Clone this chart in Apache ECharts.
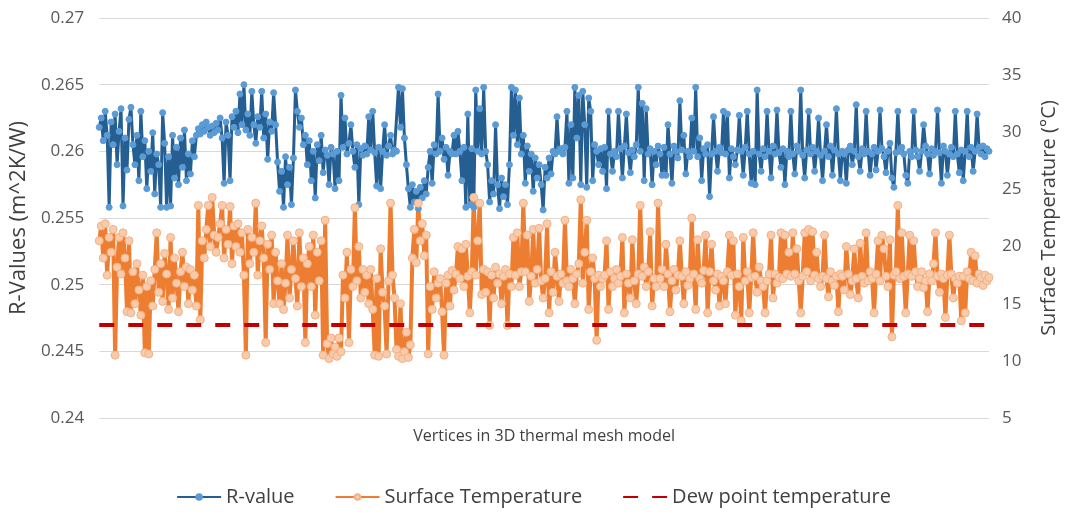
<!DOCTYPE html>
<html>
<head>
<meta charset="utf-8">
<title>R-values and surface temperature across mesh vertices</title>
<script src="https://cdn.jsdelivr.net/npm/echarts@6/dist/echarts.min.js"></script>
<style>
  html, body { margin: 0; padding: 0; background: #ffffff; }
  #chart { width: 1067px; height: 518px; }
</style>
</head>
<body>
<div id="chart"></div>
<script>
// R-value at each vertex of the 3D thermal mesh (m^2K/W)
const rValue = [
  0.2618, 0.2625, 0.2608, 0.2630, 0.2612, 0.2558, 0.2622, 0.2605, 0.2628, 0.2590, 0.2615, 0.2632, 0.2559, 0.2610, 0.2586,
  0.2624, 0.2633, 0.2605, 0.2590, 0.2612, 0.2578, 0.2630, 0.2596, 0.2608, 0.2572, 0.2600, 0.2585, 0.2614, 0.2568, 0.2598,
  0.2590, 0.2558, 0.2629, 0.2606, 0.2558, 0.2596, 0.2559, 0.2612, 0.2580, 0.2603, 0.2575, 0.2610, 0.2588, 0.2616, 0.2578,
  0.2598, 0.2583, 0.2608, 0.2596, 0.2612, 0.2617, 0.2613, 0.2620, 0.2615, 0.2622, 0.2618, 0.2612, 0.2619, 0.2614, 0.2621,
  0.2616, 0.2625, 0.2610, 0.2576, 0.2622, 0.2612, 0.2578, 0.2626, 0.2618, 0.2630, 0.2614, 0.2643, 0.2620, 0.2650, 0.2616,
  0.2628, 0.2612, 0.2645, 0.2620, 0.2606, 0.2626, 0.2618, 0.2645, 0.2610, 0.2628, 0.2594, 0.2622, 0.2615, 0.2644, 0.2620,
  0.2592, 0.2570, 0.2585, 0.2558, 0.2596, 0.2575, 0.2588, 0.2560, 0.2595, 0.2646, 0.2630, 0.2618, 0.2625, 0.2605, 0.2612,
  0.2590, 0.2608, 0.2578, 0.2600, 0.2565, 0.2605, 0.2593, 0.2612, 0.2584, 0.2601, 0.2597, 0.2575, 0.2603, 0.2598, 0.2572,
  0.2600, 0.2578, 0.2642, 0.2603, 0.2625, 0.2598, 0.2606, 0.2620, 0.2600, 0.2588, 0.2605, 0.2560, 0.2602, 0.2597, 0.2604,
  0.2598, 0.2626, 0.2601, 0.2630, 0.2599, 0.2574, 0.2603, 0.2572, 0.2600, 0.2620, 0.2597, 0.2604, 0.2612, 0.2598, 0.2601,
  0.2600, 0.2648, 0.2618, 0.2647, 0.2610, 0.2590, 0.2572, 0.2558, 0.2575, 0.2562, 0.2570, 0.2557, 0.2573, 0.2565, 0.2578,
  0.2568, 0.2588, 0.2600, 0.2576, 0.2605, 0.2598, 0.2643, 0.2600, 0.2610, 0.2594, 0.2603, 0.2582, 0.2600, 0.2598, 0.2612,
  0.2598, 0.2615, 0.2600, 0.2578, 0.2603, 0.2558, 0.2628, 0.2560, 0.2602, 0.2558, 0.2646, 0.2600, 0.2632, 0.2598, 0.2648,
  0.2600, 0.2590, 0.2562, 0.2578, 0.2568, 0.2620, 0.2575, 0.2557, 0.2580, 0.2566, 0.2575, 0.2560, 0.2590, 0.2648, 0.2612,
  0.2646, 0.2605, 0.2640, 0.2598, 0.2612, 0.2576, 0.2604, 0.2585, 0.2598, 0.2570, 0.2595, 0.2580, 0.2590, 0.2575, 0.2556,
  0.2588, 0.2580, 0.2595, 0.2583, 0.2600, 0.2598, 0.2626, 0.2600, 0.2602, 0.2598, 0.2603, 0.2630, 0.2576, 0.2620, 0.2580,
  0.2648, 0.2610, 0.2642, 0.2575, 0.2645, 0.2620, 0.2573, 0.2640, 0.2630, 0.2578, 0.2605, 0.2600, 0.2590, 0.2602, 0.2585,
  0.2603, 0.2572, 0.2630, 0.2598, 0.2585, 0.2600, 0.2596, 0.2630, 0.2602, 0.2580, 0.2604, 0.2628, 0.2599, 0.2584, 0.2601,
  0.2596, 0.2605, 0.2648, 0.2600, 0.2636, 0.2578, 0.2632, 0.2598, 0.2602, 0.2575, 0.2600, 0.2590, 0.2604, 0.2598, 0.2582,
  0.2603, 0.2582, 0.2620, 0.2598, 0.2576, 0.2604, 0.2600, 0.2595, 0.2638, 0.2601, 0.2612, 0.2583, 0.2600, 0.2596, 0.2625,
  0.2600, 0.2648, 0.2596, 0.2610, 0.2578, 0.2602, 0.2598, 0.2605, 0.2566, 0.2598, 0.2626, 0.2600, 0.2585, 0.2603, 0.2599,
  0.2630, 0.2598, 0.2628, 0.2580, 0.2602, 0.2596, 0.2590, 0.2601, 0.2627, 0.2600, 0.2582, 0.2603, 0.2630, 0.2598, 0.2576,
  0.2600, 0.2575, 0.2646, 0.2598, 0.2585, 0.2602, 0.2596, 0.2630, 0.2600, 0.2580, 0.2604, 0.2598, 0.2631, 0.2599, 0.2588,
  0.2602, 0.2575, 0.2600, 0.2596, 0.2630, 0.2598, 0.2583, 0.2604, 0.2600, 0.2646, 0.2597, 0.2580, 0.2601, 0.2630, 0.2598,
  0.2603, 0.2585, 0.2600, 0.2625, 0.2597, 0.2578, 0.2600, 0.2620, 0.2596, 0.2604, 0.2582, 0.2601, 0.2632, 0.2598, 0.2578,
  0.2600, 0.2598, 0.2576, 0.2601, 0.2604, 0.2590, 0.2600, 0.2635, 0.2596, 0.2585, 0.2602, 0.2598, 0.2630, 0.2600, 0.2582,
  0.2598, 0.2603, 0.2586, 0.2600, 0.2631, 0.2602, 0.2596, 0.2584, 0.2600, 0.2606, 0.2580, 0.2573, 0.2599, 0.2630, 0.2600,
  0.2603, 0.2598, 0.2582, 0.2576, 0.2600, 0.2596, 0.2630, 0.2601, 0.2596, 0.2585, 0.2600, 0.2620, 0.2604, 0.2598, 0.2583,
  0.2602, 0.2597, 0.2600, 0.2631, 0.2599, 0.2576, 0.2604, 0.2600, 0.2582, 0.2598, 0.2603, 0.2596, 0.2630, 0.2598, 0.2584,
  0.2601, 0.2578, 0.2600, 0.2630, 0.2596, 0.2603, 0.2585, 0.2600, 0.2628, 0.2603, 0.2598, 0.2604, 0.2596, 0.2602, 0.2600
];

// Surface temperature at the same vertices (°C)
const surfaceTemp = [
  20.5, 21.8, 19.0, 22.0, 17.5, 20.8, 19.5, 21.5, 10.5, 18.2, 20.8, 17.6, 21.2, 19.0, 14.3,
  20.5, 14.2, 17.8, 15.0, 18.5, 16.2, 14.0, 17.5, 10.7, 16.5, 10.6, 17.0, 14.8, 18.0, 21.2,
  16.0, 18.5, 15.2, 19.4, 17.6, 14.5, 20.8, 15.5, 19.0, 16.8, 14.3, 17.8, 19.5, 16.5, 18.2,
  15.0, 18.0, 16.2, 17.5, 14.8, 23.6, 13.6, 20.5, 19.0, 21.5, 23.6, 20.0, 24.3, 21.0, 19.5,
  20.8, 22.0, 23.6, 19.0, 21.5, 20.2, 23.5, 18.5, 21.8, 20.0, 22.0, 19.5, 21.2, 17.5, 10.5,
  21.5, 18.5, 20.8, 19.5, 23.8, 17.5, 20.5, 21.8, 19.0, 11.6, 20.2, 18.0, 21.0, 15.0, 19.5,
  17.0, 15.0, 18.5, 14.5, 16.8, 21.0, 15.5, 18.0, 20.5, 17.2, 14.8, 21.2, 16.5, 19.0, 11.6,
  18.5, 20.0, 16.5, 21.0, 14.0, 19.5, 17.0, 20.5, 10.5, 22.3, 11.5, 10.2, 12.0, 10.6, 11.2,
  10.4, 12.0, 10.8, 17.5, 15.5, 19.5, 11.6, 18.0, 16.5, 23.4, 17.0, 20.0, 15.5, 18.0, 16.0,
  17.5, 15.0, 18.0, 14.5, 10.5, 17.2, 10.4, 19.8, 16.0, 14.8, 10.6, 17.0, 23.8, 17.5, 15.5,
  11.0, 10.4, 15.0, 10.2, 10.8, 12.5, 10.3, 11.4, 19.0, 21.5, 18.6, 23.8, 20.5, 22.0, 19.2,
  21.0, 10.6, 16.5, 14.5, 17.8, 15.5, 16.8, 17.2, 14.3, 10.5, 16.8, 17.5, 14.8, 17.9, 16.2,
  17.6, 20.0, 17.2, 19.8, 16.5, 20.2, 17.4, 14.2, 17.8, 24.3, 17.5, 20.5, 23.8, 15.8, 18.0,
  16.0, 17.8, 13.1, 17.5, 15.5, 18.2, 16.8, 17.6, 15.0, 17.4, 18.0, 13.1, 17.6, 16.5, 20.8,
  17.5, 21.2, 16.5, 17.8, 23.8, 17.8, 21.0, 15.2, 17.4, 21.5, 16.8, 18.0, 21.6, 17.0, 15.5,
  17.2, 22.0, 14.2, 17.8, 16.0, 19.5, 17.4, 15.2, 17.6, 16.8, 22.3, 17.0, 16.5, 18.0, 17.2,
  15.0, 17.6, 18.5, 24.1, 16.8, 19.5, 22.3, 14.5, 17.8, 19.0, 17.2, 11.8, 17.5, 16.5, 17.2,
  17.5, 20.5, 14.5, 17.8, 16.5, 17.2, 18.0, 16.8, 17.4, 20.8, 14.2, 17.6, 16.8, 15.5, 20.6,
  17.0, 15.0, 17.6, 23.6, 17.4, 18.2, 16.5, 17.8, 21.3, 14.8, 17.2, 16.5, 23.8, 17.2, 18.0,
  16.5, 20.2, 17.6, 14.3, 17.0, 18.0, 16.2, 17.5, 20.5, 17.4, 15.0, 17.8, 16.6, 17.2, 22.5,
  17.6, 14.5, 20.6, 17.2, 16.8, 17.9, 21.0, 14.2, 17.8, 20.2, 17.0, 16.2, 17.6, 14.8, 17.4,
  17.0, 15.0, 17.8, 21.0, 17.5, 20.5, 14.0, 17.6, 16.5, 13.5, 20.8, 17.0, 17.8, 14.2, 17.3,
  21.2, 17.4, 16.0, 18.2, 17.0, 16.5, 14.2, 17.0, 17.6, 21.0, 15.5, 17.6, 16.8, 17.3, 21.2,
  17.2, 21.0, 17.6, 19.5, 17.4, 21.2, 17.6, 19.8, 17.0, 14.2, 17.4, 21.2, 17.8, 21.5, 17.0,
  21.3, 17.5, 19.5, 17.2, 16.5, 17.4, 21.0, 17.2, 15.6, 17.8, 17.0, 16.6, 17.4, 14.3, 17.6,
  17.4, 16.2, 20.0, 17.6, 15.8, 17.0, 19.8, 17.2, 15.5, 20.3, 17.4, 16.8, 21.2, 17.0, 17.8,
  17.2, 14.2, 17.6, 20.5, 17.0, 21.0, 19.8, 17.4, 16.5, 20.6, 12.1, 17.5, 17.8, 23.6, 17.2,
  21.2, 17.4, 14.2, 17.6, 21.0, 17.4, 20.5, 17.8, 16.5, 17.2, 17.8, 16.4, 17.0, 14.3, 17.6,
  17.0, 18.5, 21.2, 17.4, 16.0, 17.6, 17.2, 13.8, 17.5, 21.0, 17.6, 15.5, 17.2, 16.8, 17.4,
  13.5, 17.4, 14.2, 17.8, 17.2, 19.5, 17.0, 19.2, 16.8, 17.6, 17.3, 16.6, 17.5, 17.0, 17.3
];

// Dew point temperature (°C), constant over the surface
const dewPoint = 13.2;

// Vertex numbers along the horizontal axis
const vertexIds = rValue.map((_, i) => i + 1);

const rTicks = { min: 0.24, max: 0.27, step: 0.005 };
const tTicks = { min: 5, max: 40, step: 5 };

const FONT = "'Open Sans', 'Noto Sans', sans-serif";
const DEW_DASH = [15, 14];
const chart = echarts.init(document.getElementById('chart'), null, { renderer: 'canvas' });

chart.setOption({
  animation: false,
  backgroundColor: '#ffffff',
  textStyle: { fontFamily: FONT },
  grid: { left: 95, right: 77, top: 18, bottom: 100, containLabel: false },
  legend: {
    bottom: 6,
    left: 'center',
    itemWidth: 44,
    itemHeight: 7,
    itemGap: 40,
    textStyle: { fontFamily: FONT, fontSize: 20, color: '#404040' },
    data: [
      'R-value',
      'Surface Temperature',
      { name: 'Dew point temperature', itemStyle: { opacity: 0 } }
    ]
  },
  xAxis: {
    type: 'category',
    data: vertexIds,
    boundaryGap: false,
    name: 'Vertices in 3D thermal mesh model',
    nameLocation: 'middle',
    nameGap: 10,
    nameTextStyle: { fontFamily: FONT, fontSize: 16, color: '#404040' },
    axisLine: { show: false },
    axisTick: { show: false },
    axisLabel: { show: false },
    splitLine: { show: false }
  },
  yAxis: [
    {
      type: 'value',
      min: rTicks.min,
      max: rTicks.max,
      interval: rTicks.step,
      name: 'R-Values (m^2K/W)',
      nameLocation: 'middle',
      nameRotate: 90,
      nameGap: 62,
      nameTextStyle: { fontFamily: FONT, fontSize: 22, color: '#404040' },
      axisLine: { show: false },
      axisTick: { show: false },
      axisLabel: {
        margin: 15,
        fontFamily: FONT,
        fontSize: 17,
        color: '#595959',
        formatter: v => String(+v.toFixed(3))
      },
      splitLine: { show: true, lineStyle: { color: '#d9d9d9', width: 1 } }
    },
    {
      type: 'value',
      min: tTicks.min,
      max: tTicks.max,
      interval: tTicks.step,
      position: 'right',
      name: 'Surface Temperature (°C)',
      nameLocation: 'middle',
      nameRotate: 90,
      nameGap: 50,
      nameTextStyle: { fontFamily: FONT, fontSize: 20, color: '#404040' },
      axisLine: { show: false },
      axisTick: { show: false },
      axisLabel: { margin: 13, fontFamily: FONT, fontSize: 17, color: '#595959' },
      splitLine: { show: false }
    }
  ],
  series: [
    {
      name: 'R-value',
      type: 'line',
      yAxisIndex: 0,
      data: rValue,
      symbol: 'circle',
      symbolSize: 6,
      showAllSymbol: true,
      lineStyle: { color: '#255e91', width: 3 },
      itemStyle: { color: '#5b9bd5', borderColor: '#5b9bd5', borderWidth: 1 },
      z: 3
    },
    {
      name: 'Surface Temperature',
      type: 'line',
      yAxisIndex: 1,
      data: surfaceTemp,
      symbol: 'circle',
      symbolSize: 8,
      showAllSymbol: true,
      lineStyle: { color: '#ed7d31', width: 4 },
      itemStyle: { color: '#f8cbad', borderColor: '#f4b183', borderWidth: 1 },
      z: 3
    },
    {
      name: 'Dew point temperature',
      type: 'line',
      yAxisIndex: 1,
      data: [],
      symbol: 'none',
      lineStyle: { color: '#c00000', width: 4, type: DEW_DASH },
      itemStyle: { color: '#c00000' },
      markLine: {
        silent: true,
        symbol: ['none', 'none'],
        label: { show: false },
        lineStyle: { color: '#c00000', width: 4, type: DEW_DASH },
        data: [{ yAxis: dewPoint }]
      },
      z: 5
    }
  ]
});
</script>
</body>
</html>
